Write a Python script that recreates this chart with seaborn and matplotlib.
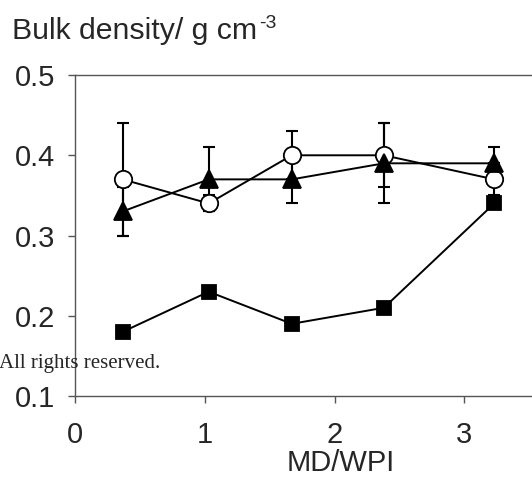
import matplotlib
matplotlib.use("Agg")
import matplotlib.pyplot as plt
import pandas as pd
import seaborn as sns

# MD/WPI positions of the five samples
x_vals = [0.367, 1.03, 1.67, 2.38, 3.23]

# bulk density, g cm-3
circle_y = [0.37, 0.34, 0.40, 0.40, 0.37]
circle_err = [0.07, 0.01, 0.03, 0.04, 0.02]
triangle_y = [0.33, 0.37, 0.37, 0.39, 0.39]
triangle_err = [0.03, 0.04, 0.03, 0.05, 0.02]
square_y = [0.18, 0.23, 0.19, 0.21, 0.34]
square_err = [0.005, 0.005, 0.005, 0.005, 0.005]

x_ticks = [0, 1, 2, 3]
y_ticks = [0.1, 0.2, 0.3, 0.4, 0.5]

sns.set_style("ticks")
plt.rcParams["font.family"] = ["Liberation Sans", "DejaVu Sans"]

fig = plt.figure(figsize=(5.32, 4.78), dpi=100)
ax = fig.add_axes([0.141, 0.1715, 1.0, 0.6715])

series = [
    (circle_y, circle_err, "o", "white", 12.5),
    (triangle_y, triangle_err, "^", "black", 13),
    (square_y, square_err, "s", "black", 10.5),
]

for ys, errs, mk, face, ms in series:
    ax.errorbar(x_vals, ys, yerr=errs, fmt="none", ecolor="black",
                elinewidth=1.5, capsize=4, capthick=1.5, zorder=2)

for ys, errs, mk, face, ms in series:
    df = pd.DataFrame({"x": x_vals, "y": ys})
    sns.lineplot(data=df, x="x", y="y", ax=ax, color="black", linewidth=1.4,
                 marker=mk, markersize=ms, markerfacecolor=face,
                 markeredgecolor="black", markeredgewidth=1.3, zorder=3,
                 sort=False)

ax.set_xlim(0, 532 / 129.8)
ax.set_ylim(0.1, 0.5)
ax.set_xticks(x_ticks)
ax.set_yticks(y_ticks)
ax.set_xticklabels([str(t) for t in x_ticks], fontsize=21)
ax.set_yticklabels([f"{t:.1f}" for t in y_ticks], fontsize=21)
ax.tick_params(direction="out", length=5, width=1, color="#555555")
ax.tick_params(axis="x", pad=13)
ax.tick_params(axis="y", pad=9)
ax.set_xlabel("MD/WPI", fontsize=21, labelpad=0)
ax.set_ylabel("")
for side in ["left", "bottom", "top"]:
    ax.spines[side].set_color("#555555")
    ax.spines[side].set_linewidth(1)
ax.spines["right"].set_visible(False)

fig.text(12 / 532, 1 - 39 / 478, "Bulk density/ g cm", fontsize=21.8,
         ha="left", va="baseline")
fig.text(259 / 532, 1 - 28 / 478, "-3", fontsize=14,
         ha="left", va="baseline")
fig.text(-1 / 532, 1 - 368 / 478, "All rights reserved.", fontsize=15,
         family=["Liberation Serif", "DejaVu Serif"], ha="left", va="baseline")

fig.savefig("out.png", dpi=100)
